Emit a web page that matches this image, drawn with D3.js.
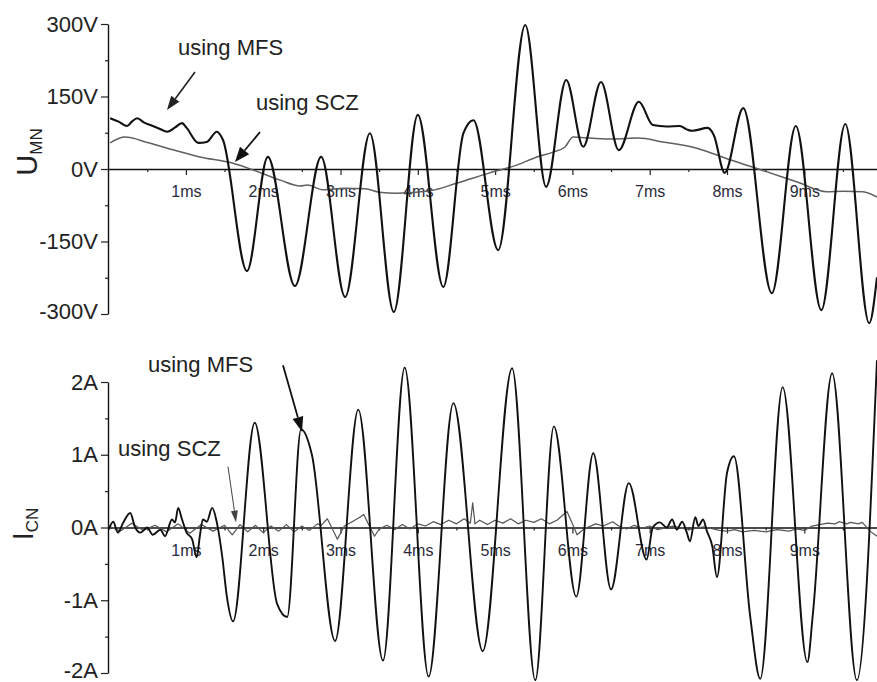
<!DOCTYPE html>
<html>
<head>
<meta charset="utf-8">
<script src="https://cdn.jsdelivr.net/npm/d3@7/dist/d3.min.js"></script>
<style>
  html, body { margin: 0; padding: 0; background: #fff; }
  svg { display: block; font-family: "Liberation Sans", Arial, sans-serif; }
</style>
</head>
<body>
<svg id="chart" width="877" height="682"></svg>
<script>
// ---------- data (time in ms, value) ----------
const xMajorTicks = [1, 2, 3, 4, 5, 6, 7, 8, 9];
const xMinorTicks = [0.5, 1.5, 2.5, 3.5, 4.5, 5.5, 6.5, 7.5, 8.5, 9.5];
const uTicks = [-300, -150, 0, 150, 300];
const uMinorTicks = [-225, -75, 75, 225];
const iTicks = [-2, -1, 0, 1, 2];
const iMinorTicks = [-1.5, -0.5, 0.5, 1.5];

// U_MN using MFS (V)
const umnMfs = [
  [0.02,105],[0.13,98],[0.24,89],[0.30,98],[0.37,105],[0.46,96],[0.54,91],[0.65,84],[0.76,77],[0.86,86],[0.95,95],[1.01,85],
  [1.16,54],[1.27,56],[1.40,77],[1.48,60],[1.79,-211],[2.06,25],[2.41,-242],[2.75,25],
  [3.06,-265],[3.38,74],[3.69,-296],[4.00,112],[4.33,-244],[4.59,74],[4.72,101],[5.04,-168],
  [5.39,298],[5.66,-37],[5.92,184],[6.14,46],[6.37,180],[6.60,39],[6.86,139],[7.04,91],
  [7.22,88],[7.39,89],[7.48,82],[7.55,79],[7.75,85],[7.83,70],[7.97,-8],[8.21,126],[8.58,-257],
  [8.89,89],[9.22,-292],[9.53,93],[9.84,-319],[9.94,-224]
];
// U_MN using SCZ (V)
const umnScz = [
  [0.02,54],[0.21,66],[0.50,55],[0.76,43],[1.18,25],[1.61,12],[1.87,-2],[2.22,-23],[2.48,-35],
  [2.57,-33],[2.77,-43],[3.05,-40],[3.32,-41],[3.50,-48],[3.73,-50],[4.16,-45],[4.51,-29],[4.93,-8],
  [5.28,8],[5.54,25],[5.75,35],[5.90,45],[6.01,66],[6.23,64],[6.53,62],[6.85,64],[7.17,56],
  [7.61,43],[8.04,19],[8.52,-6],[8.91,-27],[9.29,-47],[9.50,-46],[9.76,-47],[9.94,-58]
];
// I_CN using MFS (A)
const icnMfs = [
  [0.00,-0.03],[0.06,0.08],[0.12,-0.07],[0.19,0.07],[0.28,0.20],[0.34,0.01],[0.41,-0.07],[0.50,0.00],
  [0.57,-0.10],[0.67,-0.03],[0.73,-0.12],[0.82,0.11],[0.86,0.07],[0.90,0.27],[0.95,0.11],[1.01,-0.07],
  [1.08,-0.16],[1.14,-0.41],[1.18,-0.12],[1.22,0.11],[1.27,0.08],[1.34,0.27],[1.40,0.07],[1.47,-0.40],
  [1.53,-0.95],[1.61,-1.29],[1.89,1.44],[2.18,-1.05],[2.31,-1.23],[2.49,1.35],[2.63,1.00],[2.93,-1.56],
  [3.23,1.62],[3.55,-1.83],[3.83,2.20],[4.14,-2.05],[4.46,1.71],[4.84,-1.70],[5.22,2.19],[5.52,-2.10],
  [5.76,1.39],[6.05,-0.95],[6.27,1.02],[6.50,-0.85],[6.73,0.61],[6.96,-0.44],[7.04,0.00],[7.13,0.07],
  [7.22,0.00],[7.29,0.11],[7.35,-0.03],[7.42,0.08],[7.48,-0.07],[7.52,-0.19],[7.59,0.14],[7.63,0.02],
  [7.69,0.11],[7.74,-0.05],[7.81,-0.26],[7.87,-0.68],[8.00,0.75],[8.09,0.98],[8.30,-1.22],[8.43,-2.08],
  [8.72,1.93],[9.04,-1.85],[9.11,-1.20],[9.36,2.12],[9.68,-2.10],[9.94,2.30]
];
// I_CN using SCZ (A)
const icnScz = [
  [0.00,0.02],[0.15,-0.05],[0.30,0.06],[0.45,-0.04],[0.60,0.03],[0.75,-0.06],[0.90,0.05],[1.05,-0.08],
  [1.20,0.04],[1.35,-0.05],[1.50,0.03],[1.60,-0.10],[1.70,0.04],[1.80,-0.06],[1.90,0.03],[2.00,-0.07],
  [2.10,0.02],[2.20,-0.05],[2.30,0.04],[2.40,-0.06],[2.50,0.02],[2.60,-0.04],[2.70,0.05],[2.75,0.03],
  [2.83,0.12],[2.90,-0.03],[2.96,-0.16],[3.05,0.02],[3.15,0.08],[3.25,0.14],[3.30,0.18],[3.36,0.05],
  [3.44,-0.12],[3.50,-0.02],[3.60,0.03],[3.70,-0.03],[3.80,0.04],[3.90,-0.02],[4.00,0.05],[4.10,0.02],
  [4.20,0.08],[4.30,0.04],[4.40,0.10],[4.50,0.05],[4.60,0.12],[4.68,0.06],[4.71,0.34],[4.74,0.05],
  [4.80,0.10],[4.90,0.04],[5.00,0.10],[5.10,0.06],[5.20,0.12],[5.30,0.05],[5.40,0.10],[5.50,0.07],
  [5.60,0.12],[5.70,0.05],[5.80,0.10],[5.93,0.22],[6.00,0.05],[6.06,-0.10],[6.15,-0.02],[6.30,0.05],
  [6.40,0.02],[6.52,0.08],[6.60,0.02],[6.70,-0.02],[6.80,0.03],[6.90,-0.01],[7.00,0.02],[7.10,-0.03],
  [7.30,0.02],[7.50,-0.03],[7.70,0.01],[7.90,-0.04],[8.00,-0.05],[8.10,-0.03],[8.20,-0.06],[8.35,-0.04],
  [8.50,-0.06],[8.65,-0.03],[8.80,-0.05],[8.90,-0.02],[9.00,-0.04],[9.10,0.02],[9.20,0.04],[9.30,0.06],
  [9.40,0.05],[9.45,0.08],[9.55,0.05],[9.60,0.07],[9.70,0.05],[9.75,0.07],[9.85,-0.05],[9.94,-0.12]
];

// ---------- scales ----------
const svg = d3.select("#chart");
const W = 877;
const x = d3.scaleLinear().domain([0, 10]).range([108.6, 881.6]);
const yU = d3.scaleLinear().domain([-300, 300]).range([314, 24]);
const yI = d3.scaleLinear().domain([-2, 2]).range([673, 382]);

svg.append("defs").append("clipPath").attr("id", "clip")
  .append("rect").attr("x", 108).attr("y", 0).attr("width", W - 108).attr("height", 682);

function panel(y, ticks, minor, unit) {
  // x axis at zero
  const gx = svg.append("g").attr("transform", `translate(0,${y(0)})`);
  gx.call(d3.axisBottom(x).tickValues(xMajorTicks).tickSize(6).tickSizeOuter(0)
      .tickFormat(d => d + "ms"));
  gx.call(g => g.selectAll("text").attr("y", 17).attr("dy", "0.71em")
      .style("font-size", "16px").attr("fill", "#2a2a3a"));
  const gxm = svg.append("g").attr("transform", `translate(0,${y(0)})`);
  gxm.call(d3.axisBottom(x).tickValues(xMinorTicks).tickSize(3).tickFormat(""));
  gxm.select(".domain").remove();

  // y axis
  const gy = svg.append("g").attr("transform", `translate(108,0)`);
  gy.call(d3.axisLeft(y).tickValues(ticks).tickSize(7).tickPadding(3).tickSizeOuter(0)
      .tickFormat(d => d + unit));
  gy.selectAll("text").style("font-size", "22px").attr("fill", "#222");
  // keep the bottom-most label inside the picture
  gy.selectAll(".tick").filter(d => d === ticks[0]).select("text").attr("dy", "0.2em");
  const gym = svg.append("g").attr("transform", `translate(108,0)`);
  gym.call(d3.axisLeft(y).tickValues(minor).tickSize(3).tickFormat(""));
  gym.select(".domain").remove();

  svg.selectAll(".domain").attr("stroke", "#111").attr("stroke-width", 1.4);
  svg.selectAll(".tick line").attr("stroke", "#222").attr("stroke-width", 1.2);
}

panel(yU, uTicks, uMinorTicks, "V");
panel(yI, iTicks, iMinorTicks, "A");

// ---------- traces ----------
const plot = svg.append("g").attr("clip-path", "url(#clip)");
function trace(data, y, color, width, curve) {
  plot.append("path").datum(data)
    .attr("fill", "none").attr("stroke", color).attr("stroke-width", width)
    .attr("stroke-linejoin", "round")
    .attr("d", d3.line().x(d => x(d[0])).y(d => y(d[1])).curve(curve));
}
trace(umnScz, yU, "#606060", 1.5, d3.curveMonotoneX);
trace(umnMfs, yU, "#111", 2.1, d3.curveMonotoneX);
trace(icnScz, yI, "#555", 1.2, d3.curveLinear);
trace(icnMfs, yI, "#111", 1.9, d3.curveMonotoneX);

// ---------- axis titles ----------
function yTitle(cx, cy, main, sub) {
  const t = svg.append("text").attr("transform", `translate(${cx},${cy}) rotate(-90)`)
    .attr("text-anchor", "middle").attr("fill", "#222");
  t.append("tspan").text(main).style("font-size", "29px");
  t.append("tspan").text(sub).attr("dy", 5).style("font-size", "17px");
}
yTitle(37, 152, "U", "MN");
yTitle(33, 524, "I", "CN");

// ---------- annotations ----------
const labels = [
  { text: "using MFS", px: 178, py: 55 },
  { text: "using SCZ", px: 256, py: 110 },
  { text: "using MFS", px: 148, py: 372 },
  { text: "using SCZ", px: 118, py: 456 }
];
labels.forEach(l => svg.append("text").attr("x", l.px).attr("y", l.py)
  .style("font-size", "22px").attr("fill", "#222").text(l.text));

const arrows = [
  { from: [1.118, 200.7], to: [0.755, 122], y: yU, w: 1.6, head: 14, hw: 5, color: "#222" },
  { from: [1.959, 76.5], to: [1.635, 14.5], y: yU, w: 1.8, head: 15, hw: 6, color: "#111" },
  { from: [2.256, 2.23], to: [2.502, 1.315], y: yI, w: 1.8, head: 15, hw: 5.5, color: "#111" },
  { from: [1.545, 0.836], to: [1.649, 0.068], y: yI, w: 1.0, head: 12, hw: 3.5, color: "#444" }
];
arrows.forEach(a => {
  const x1 = x(a.from[0]), y1 = a.y(a.from[1]);
  const x2 = x(a.to[0]), y2 = a.y(a.to[1]);
  const dx = x2 - x1, dy = y2 - y1, L = Math.hypot(dx, dy);
  const ux = dx / L, uy = dy / L;
  const bx = x2 - ux * a.head, by = y2 - uy * a.head;
  svg.append("line").attr("x1", x1).attr("y1", y1).attr("x2", bx).attr("y2", by)
    .attr("stroke", a.color).attr("stroke-width", a.w);
  svg.append("polygon")
    .attr("points", [[x2, y2], [bx - uy * a.hw, by + ux * a.hw], [bx + uy * a.hw, by - ux * a.hw]]
      .map(p => p.join(",")).join(" "))
    .attr("fill", a.color);
});
</script>
</body>
</html>
